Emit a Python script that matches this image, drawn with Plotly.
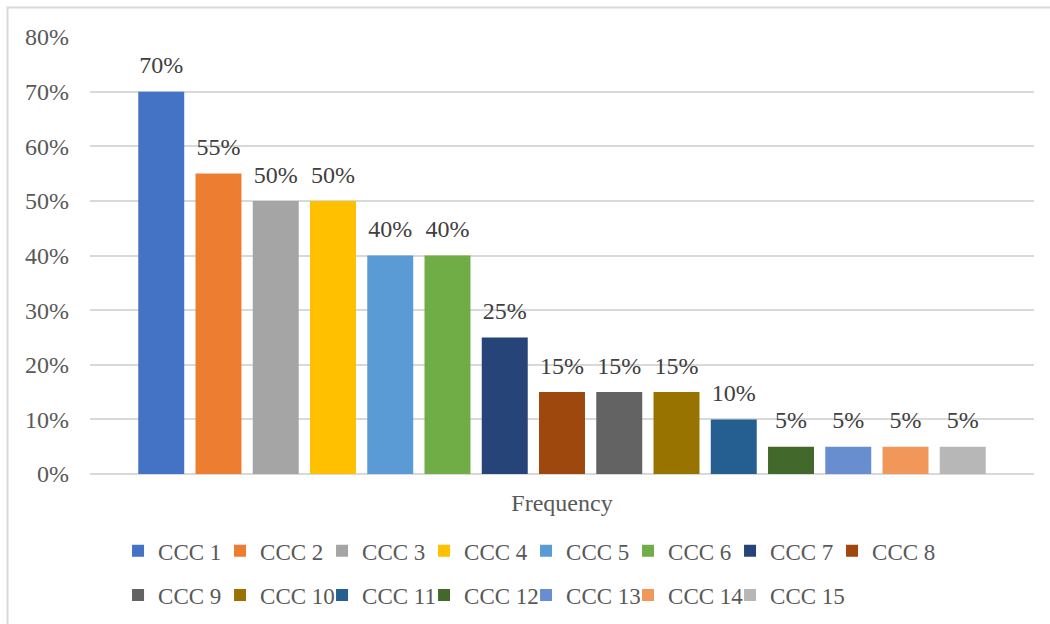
import plotly.graph_objects as go

# Share of respondents per CCC item, shown as one grouped cluster
category = ["Frequency"]
series_names = [f"CCC {i}" for i in range(1, 16)]
values = [0.70, 0.55, 0.50, 0.50, 0.40, 0.40, 0.25, 0.15, 0.15, 0.15,
          0.10, 0.05, 0.05, 0.05, 0.05]
colors = ["#4472C4", "#ED7D31", "#A5A5A5", "#FFC000", "#5B9BD5", "#70AD47",
          "#264478", "#9E480E", "#636363", "#997300", "#255E91", "#43682B",
          "#698ED0", "#F1975A", "#B7B7B7"]
y_ticks = [0, 0.1, 0.2, 0.3, 0.4, 0.5, 0.6, 0.7, 0.8]

FONT = "Liberation Serif, Times New Roman, serif"
FS = 24
LEG_FS = 23
ROW_SPLIT = 8  # series shown on the first legend row

fig = go.Figure()
for i, (name, v, c) in enumerate(zip(series_names, values, colors)):
    grp = str(i)
    fig.add_trace(go.Bar(
        x=category, y=[v], name=name, offsetgroup=grp,
        marker=dict(color=c, line=dict(width=0)),
        legend="legend" if i < ROW_SPLIT else "legend2",
    ))
    # value label above the bar of the same group; the clear marker
    # only adds breathing room between bar top and text
    fig.add_trace(go.Scatter(
        x=category, y=[v], offsetgroup=grp, mode="markers+text",
        marker=dict(size=18, color="rgba(0,0,0,0)"),
        texttemplate="%{y:.0%}", textposition="top center",
        textfont=dict(family=FONT, size=FS, color="#404040"),
        showlegend=False, hoverinfo="skip", cliponaxis=False,
    ))

# blank trailing slot on each legend row so its last label is not cut off
for leg, grp in (("legend", str(ROW_SPLIT - 1)), ("legend2", str(len(values) - 1))):
    fig.add_trace(go.Scatter(
        x=category, y=[None], name=" ", offsetgroup=grp, mode="markers",
        marker=dict(color="rgba(0,0,0,0)"), legend=leg, hoverinfo="skip",
    ))

legend_common = dict(
    orientation="h", xanchor="left", yanchor="middle",
    font=dict(family=FONT, size=LEG_FS, color="#595959"),
    entrywidth=57, entrywidthmode="pixels",
    itemwidth=30, bgcolor="rgba(0,0,0,0)", traceorder="normal",
)

fig.update_layout(
    width=1050, height=624,
    margin=dict(l=90, r=16, t=37, b=150, autoexpand=False),
    paper_bgcolor="white", plot_bgcolor="white",
    barmode="group", bargap=0.0903, bargroupgap=0.197,
    scattermode="group",
    font=dict(family=FONT, size=FS, color="#595959"),
    legend=dict(x=0.0297, y=-0.176, **legend_common),
    legend2=dict(x=0.0297, y=-0.277, **legend_common),
    xaxis=dict(showgrid=False, showline=False, ticks="", ticklabelstandoff=12,
               tickfont=dict(family=FONT, size=FS, color="#595959")),
    yaxis=dict(range=[0, 0.8], tickvals=y_ticks, tickformat=".0%",
               showgrid=True, gridcolor="#D9D9D9", gridwidth=2,
               zeroline=True, zerolinecolor="#D9D9D9", zerolinewidth=2,
               showline=False, ticks="", ticklabelstandoff=20,
               tickfont=dict(family=FONT, size=FS, color="#595959")),
    shapes=[dict(type="rect", xref="paper", yref="paper",
                 x0=-0.0874, x1=1.2, y0=-0.5, y1=1.0675,
                 line=dict(color="#D9D9D9", width=2), layer="below")],
)

fig.write_html("out.html")
